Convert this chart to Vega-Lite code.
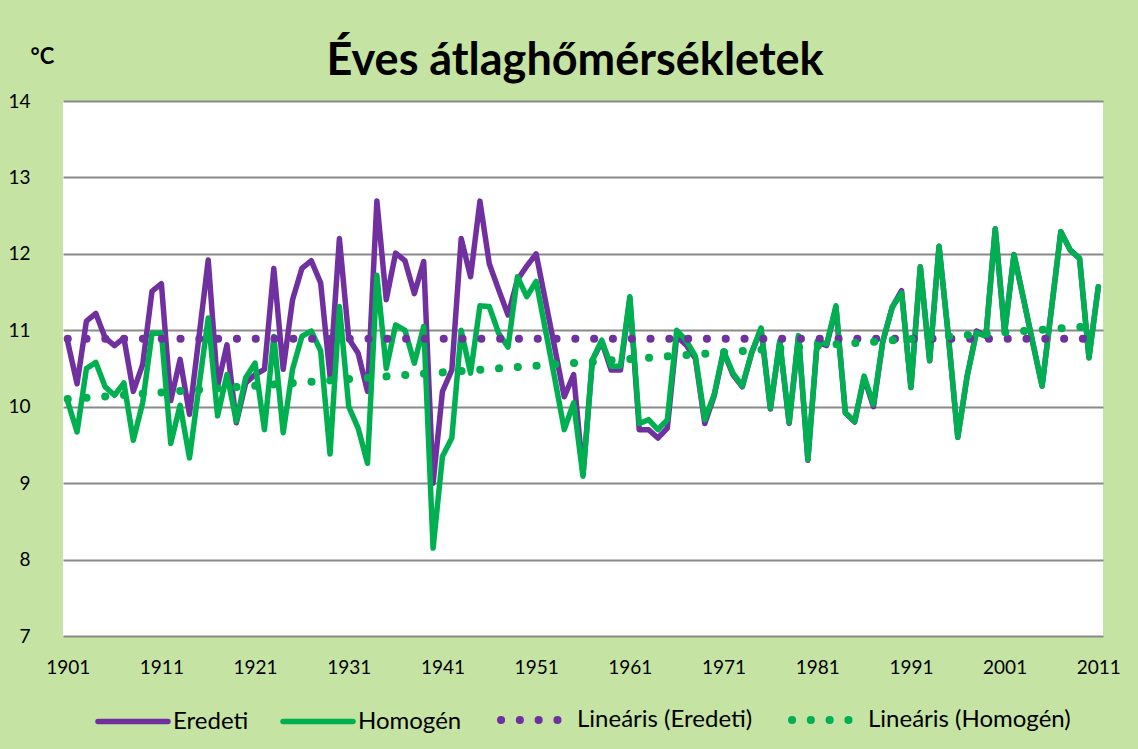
{
"$schema": "https://vega.github.io/schema/vega-lite/v6.json",
"width": 1040, "height": 535,
"autosize": {"type": "none"},
"padding": {"left": 63, "top": 101, "right": 35, "bottom": 113},
"background": "#C5E3A2",
"config": {"view": {"fill": "white", "stroke": null}, "font": "Lato"},
"title": {"text": "Éves átlaghőmérsékletek", "fontSize": 45, "fontWeight": "bold", "font": "Lato", "color": "black", "offset": 16, "dy": 55, "dx": -8},
"data": {"values": [
{"y":1901,"s":"Eredeti","t":10.85},{"y":1902,"s":"Eredeti","t":10.30},{"y":1903,"s":"Eredeti","t":11.12},{"y":1904,"s":"Eredeti","t":11.22},{"y":1905,"s":"Eredeti","t":10.90},{"y":1906,"s":"Eredeti","t":10.80},{"y":1907,"s":"Eredeti","t":10.90},{"y":1908,"s":"Eredeti","t":10.20},{"y":1909,"s":"Eredeti","t":10.55},{"y":1910,"s":"Eredeti","t":11.51},
{"y":1911,"s":"Eredeti","t":11.61},{"y":1912,"s":"Eredeti","t":10.08},{"y":1913,"s":"Eredeti","t":10.62},{"y":1914,"s":"Eredeti","t":9.90},{"y":1915,"s":"Eredeti","t":10.90},{"y":1916,"s":"Eredeti","t":11.92},{"y":1917,"s":"Eredeti","t":10.27},{"y":1918,"s":"Eredeti","t":10.81},{"y":1919,"s":"Eredeti","t":9.79},{"y":1920,"s":"Eredeti","t":10.31},
{"y":1921,"s":"Eredeti","t":10.42},{"y":1922,"s":"Eredeti","t":10.49},{"y":1923,"s":"Eredeti","t":11.81},{"y":1924,"s":"Eredeti","t":10.49},{"y":1925,"s":"Eredeti","t":11.40},{"y":1926,"s":"Eredeti","t":11.81},{"y":1927,"s":"Eredeti","t":11.91},{"y":1928,"s":"Eredeti","t":11.62},{"y":1929,"s":"Eredeti","t":10.40},{"y":1930,"s":"Eredeti","t":12.20},
{"y":1931,"s":"Eredeti","t":10.89},{"y":1932,"s":"Eredeti","t":10.70},{"y":1933,"s":"Eredeti","t":10.20},{"y":1934,"s":"Eredeti","t":12.69},{"y":1935,"s":"Eredeti","t":11.40},{"y":1936,"s":"Eredeti","t":12.01},{"y":1937,"s":"Eredeti","t":11.91},{"y":1938,"s":"Eredeti","t":11.48},{"y":1939,"s":"Eredeti","t":11.90},{"y":1940,"s":"Eredeti","t":9.00},
{"y":1941,"s":"Eredeti","t":10.20},{"y":1942,"s":"Eredeti","t":10.48},{"y":1943,"s":"Eredeti","t":12.20},{"y":1944,"s":"Eredeti","t":11.70},{"y":1945,"s":"Eredeti","t":12.69},{"y":1946,"s":"Eredeti","t":11.87},{"y":1947,"s":"Eredeti","t":11.53},{"y":1948,"s":"Eredeti","t":11.20},{"y":1949,"s":"Eredeti","t":11.66},{"y":1950,"s":"Eredeti","t":11.84},
{"y":1951,"s":"Eredeti","t":12.00},{"y":1952,"s":"Eredeti","t":11.38},{"y":1953,"s":"Eredeti","t":10.76},{"y":1954,"s":"Eredeti","t":10.13},{"y":1955,"s":"Eredeti","t":10.42},{"y":1956,"s":"Eredeti","t":9.11},{"y":1957,"s":"Eredeti","t":10.61},{"y":1958,"s":"Eredeti","t":10.85},{"y":1959,"s":"Eredeti","t":10.48},{"y":1960,"s":"Eredeti","t":10.48},
{"y":1961,"s":"Eredeti","t":11.42},{"y":1962,"s":"Eredeti","t":9.70},{"y":1963,"s":"Eredeti","t":9.70},{"y":1964,"s":"Eredeti","t":9.59},{"y":1965,"s":"Eredeti","t":9.72},{"y":1966,"s":"Eredeti","t":10.92},{"y":1967,"s":"Eredeti","t":10.81},{"y":1968,"s":"Eredeti","t":10.63},{"y":1969,"s":"Eredeti","t":9.78},{"y":1970,"s":"Eredeti","t":10.14},
{"y":1971,"s":"Eredeti","t":10.72},{"y":1972,"s":"Eredeti","t":10.42},{"y":1973,"s":"Eredeti","t":10.26},{"y":1974,"s":"Eredeti","t":10.70},{"y":1975,"s":"Eredeti","t":11.02},{"y":1976,"s":"Eredeti","t":9.97},{"y":1977,"s":"Eredeti","t":10.85},{"y":1978,"s":"Eredeti","t":9.78},{"y":1979,"s":"Eredeti","t":10.92},{"y":1980,"s":"Eredeti","t":9.30},
{"y":1981,"s":"Eredeti","t":10.85},{"y":1982,"s":"Eredeti","t":10.80},{"y":1983,"s":"Eredeti","t":11.30},{"y":1984,"s":"Eredeti","t":9.92},{"y":1985,"s":"Eredeti","t":9.80},{"y":1986,"s":"Eredeti","t":10.38},{"y":1987,"s":"Eredeti","t":10.00},{"y":1988,"s":"Eredeti","t":10.85},{"y":1989,"s":"Eredeti","t":11.30},{"y":1990,"s":"Eredeti","t":11.52},
{"y":1991,"s":"Eredeti","t":10.25},{"y":1992,"s":"Eredeti","t":11.83},{"y":1993,"s":"Eredeti","t":10.60},{"y":1994,"s":"Eredeti","t":12.10},{"y":1995,"s":"Eredeti","t":10.92},{"y":1996,"s":"Eredeti","t":9.60},{"y":1997,"s":"Eredeti","t":10.40},{"y":1998,"s":"Eredeti","t":10.99},{"y":1999,"s":"Eredeti","t":10.92},{"y":2000,"s":"Eredeti","t":12.33},
{"y":2001,"s":"Eredeti","t":10.97},{"y":2002,"s":"Eredeti","t":11.99},{"y":2003,"s":"Eredeti","t":11.42},{"y":2004,"s":"Eredeti","t":10.84},{"y":2005,"s":"Eredeti","t":10.27},{"y":2006,"s":"Eredeti","t":11.28},{"y":2007,"s":"Eredeti","t":12.29},{"y":2008,"s":"Eredeti","t":12.05},{"y":2009,"s":"Eredeti","t":11.94},{"y":2010,"s":"Eredeti","t":10.64},{"y":2011,"s":"Eredeti","t":11.57},
{"y":1901,"s":"Homogén","t":10.07},{"y":1902,"s":"Homogén","t":9.67},{"y":1903,"s":"Homogén","t":10.50},{"y":1904,"s":"Homogén","t":10.58},{"y":1905,"s":"Homogén","t":10.26},{"y":1906,"s":"Homogén","t":10.15},{"y":1907,"s":"Homogén","t":10.31},{"y":1908,"s":"Homogén","t":9.56},{"y":1909,"s":"Homogén","t":10.05},{"y":1910,"s":"Homogén","t":10.96},
{"y":1911,"s":"Homogén","t":10.96},{"y":1912,"s":"Homogén","t":9.52},{"y":1913,"s":"Homogén","t":10.02},{"y":1914,"s":"Homogén","t":9.33},{"y":1915,"s":"Homogén","t":10.25},{"y":1916,"s":"Homogén","t":11.16},{"y":1917,"s":"Homogén","t":9.88},{"y":1918,"s":"Homogén","t":10.42},{"y":1919,"s":"Homogén","t":9.81},{"y":1920,"s":"Homogén","t":10.38},
{"y":1921,"s":"Homogén","t":10.57},{"y":1922,"s":"Homogén","t":9.70},{"y":1923,"s":"Homogén","t":10.92},{"y":1924,"s":"Homogén","t":9.66},{"y":1925,"s":"Homogén","t":10.49},{"y":1926,"s":"Homogén","t":10.92},{"y":1927,"s":"Homogén","t":10.99},{"y":1928,"s":"Homogén","t":10.73},{"y":1929,"s":"Homogén","t":9.38},{"y":1930,"s":"Homogén","t":11.31},
{"y":1931,"s":"Homogén","t":10.00},{"y":1932,"s":"Homogén","t":9.72},{"y":1933,"s":"Homogén","t":9.26},{"y":1934,"s":"Homogén","t":11.72},{"y":1935,"s":"Homogén","t":10.50},{"y":1936,"s":"Homogén","t":11.07},{"y":1937,"s":"Homogén","t":11.00},{"y":1938,"s":"Homogén","t":10.57},{"y":1939,"s":"Homogén","t":11.05},{"y":1940,"s":"Homogén","t":8.15},
{"y":1941,"s":"Homogén","t":9.35},{"y":1942,"s":"Homogén","t":9.59},{"y":1943,"s":"Homogén","t":11.00},{"y":1944,"s":"Homogén","t":10.44},{"y":1945,"s":"Homogén","t":11.32},{"y":1946,"s":"Homogén","t":11.31},{"y":1947,"s":"Homogén","t":10.96},{"y":1948,"s":"Homogén","t":10.78},{"y":1949,"s":"Homogén","t":11.70},{"y":1950,"s":"Homogén","t":11.44},
{"y":1951,"s":"Homogén","t":11.64},{"y":1952,"s":"Homogén","t":11.00},{"y":1953,"s":"Homogén","t":10.36},{"y":1954,"s":"Homogén","t":9.70},{"y":1955,"s":"Homogén","t":10.05},{"y":1956,"s":"Homogén","t":9.09},{"y":1957,"s":"Homogén","t":10.61},{"y":1958,"s":"Homogén","t":10.87},{"y":1959,"s":"Homogén","t":10.53},{"y":1960,"s":"Homogén","t":10.53},
{"y":1961,"s":"Homogén","t":11.44},{"y":1962,"s":"Homogén","t":9.78},{"y":1963,"s":"Homogén","t":9.83},{"y":1964,"s":"Homogén","t":9.70},{"y":1965,"s":"Homogén","t":9.83},{"y":1966,"s":"Homogén","t":11.00},{"y":1967,"s":"Homogén","t":10.87},{"y":1968,"s":"Homogén","t":10.66},{"y":1969,"s":"Homogén","t":9.83},{"y":1970,"s":"Homogén","t":10.16},
{"y":1971,"s":"Homogén","t":10.73},{"y":1972,"s":"Homogén","t":10.44},{"y":1973,"s":"Homogén","t":10.27},{"y":1974,"s":"Homogén","t":10.71},{"y":1975,"s":"Homogén","t":11.03},{"y":1976,"s":"Homogén","t":9.98},{"y":1977,"s":"Homogén","t":10.86},{"y":1978,"s":"Homogén","t":9.79},{"y":1979,"s":"Homogén","t":10.93},{"y":1980,"s":"Homogén","t":9.31},
{"y":1981,"s":"Homogén","t":10.86},{"y":1982,"s":"Homogén","t":10.82},{"y":1983,"s":"Homogén","t":11.32},{"y":1984,"s":"Homogén","t":9.92},{"y":1985,"s":"Homogén","t":9.81},{"y":1986,"s":"Homogén","t":10.40},{"y":1987,"s":"Homogén","t":10.03},{"y":1988,"s":"Homogén","t":10.86},{"y":1989,"s":"Homogén","t":11.30},{"y":1990,"s":"Homogén","t":11.49},
{"y":1991,"s":"Homogén","t":10.25},{"y":1992,"s":"Homogén","t":11.83},{"y":1993,"s":"Homogén","t":10.60},{"y":1994,"s":"Homogén","t":12.10},{"y":1995,"s":"Homogén","t":10.92},{"y":1996,"s":"Homogén","t":9.60},{"y":1997,"s":"Homogén","t":10.40},{"y":1998,"s":"Homogén","t":10.97},{"y":1999,"s":"Homogén","t":10.92},{"y":2000,"s":"Homogén","t":12.33},
{"y":2001,"s":"Homogén","t":10.97},{"y":2002,"s":"Homogén","t":11.99},{"y":2003,"s":"Homogén","t":11.42},{"y":2004,"s":"Homogén","t":10.84},{"y":2005,"s":"Homogén","t":10.27},{"y":2006,"s":"Homogén","t":11.28},{"y":2007,"s":"Homogén","t":12.29},{"y":2008,"s":"Homogén","t":12.05},{"y":2009,"s":"Homogén","t":11.94},{"y":2010,"s":"Homogén","t":10.64},{"y":2011,"s":"Homogén","t":11.57},
{"y":1901,"s":"Lineáris (Eredeti)","t":10.89},{"y":2011,"s":"Lineáris (Eredeti)","t":10.89},
{"y":1901,"s":"Lineáris (Homogén)","t":10.10},{"y":2011,"s":"Lineáris (Homogén)","t":11.06}
]},
"mark": {"type": "line", "strokeCap": "round", "strokeJoin": "round"},
"encoding": {
  "x": {"field": "y", "type": "quantitative",
        "scale": {"domain": [1900.5, 2011.5], "nice": false, "zero": false},
        "axis": {"values": [1901,1911,1921,1931,1941,1951,1961,1971,1981,1991,2001,2011], "format": "d", "grid": false, "ticks": false, "domain": false,
                 "labelFontSize": 19, "labelColor": "black", "labelPadding": 22, "labelFont": "Lato", "title": null}},
  "y": {"field": "t", "type": "quantitative",
        "scale": {"domain": [7, 14], "nice": false, "zero": false},
        "axis": {"values": [7,8,9,10,11,12,13,14], "grid": true, "gridColor": "#8A8A8A", "gridWidth": 2, "domain": false, "ticks": false,
                 "labelFontSize": 19, "labelColor": "black", "labelPadding": 33, "labelAlign": "right", "labelFont": "Lato",
                 "title": "°C", "titleAngle": 0, "titleFontSize": 22, "titleFontWeight": "bold", "titleFont": "Lato", "titleColor": "black",
                 "titleX": -33, "titleY": -45, "titleAlign": "left", "titleBaseline": "middle"}},
  "color": {"field": "s", "type": "nominal",
            "scale": {"domain": ["Eredeti", "Homogén", "Lineáris (Eredeti)", "Lineáris (Homogén)"], "range": ["#7030A0", "#00B050", "#7030A0", "#00B050"]},
            "legend": {"title": null, "orient": "none", "legendX": 32, "legendY": 580, "direction": "horizontal", "symbolType": "stroke", "symbolSize": 4900,
                       "labelFontSize": 24, "labelFont": "Lato", "labelColor": "black", "labelLimit": 400, "columnPadding": 23, "labelOffset": 2,
                       "encode": {"symbols": {"update": {"strokeCap": {"value": "round"}}}}}},
  "strokeDash": {"field": "s", "type": "nominal",
            "scale": {"domain": ["Eredeti", "Homogén", "Lineáris (Eredeti)", "Lineáris (Homogén)"], "range": [[1, 0], [1, 0], [0.1, 18.7], [0.1, 18.7]]}},
  "strokeWidth": {"field": "s", "type": "nominal",
            "scale": {"type": "ordinal", "domain": ["Eredeti", "Homogén", "Lineáris (Eredeti)", "Lineáris (Homogén)"], "range": [5.5, 5.5, 8, 8]}}
}
}
